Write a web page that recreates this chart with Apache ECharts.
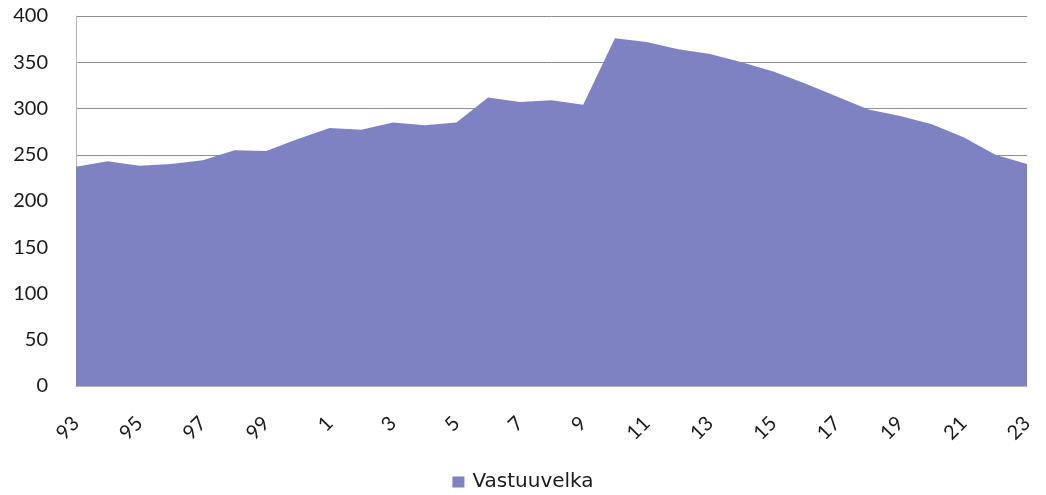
<!DOCTYPE html>
<html>
<head>
<meta charset="utf-8">
<script src="https://cdn.jsdelivr.net/npm/echarts@6/dist/echarts.min.js"></script>
<style>
  html, body { margin: 0; padding: 0; background: #fff; }
  #chart { width: 1046px; height: 495px; }
</style>
</head>
<body>
<div id="chart"></div>
<script>
// vuodet (2-numeroiset)
var years = ['93', '94', '95', '96', '97', '98', '99', '0', '1', '2', '3', '4', '5', '6', '7', '8',
  '9', '10', '11', '12', '13', '14', '15', '16', '17', '18', '19', '20', '21', '22', '23'];
// vastuuvelka
var liability = [237, 243, 238, 240, 244, 255, 254, 267, 279, 277, 285, 282, 285, 312, 307, 309,
  304, 376, 372, 364, 359, 350, 340, 327, 313, 299, 292, 283, 269, 250, 240];
var yTicks = [0, 50, 100, 150, 200, 250, 300, 350, 400];

var font = 'Lato, "Open Sans", sans-serif';
var myChart = echarts.init(document.getElementById('chart'));
var option = {
  animation: false,
  grid: { left: 76, right: 19, top: 16, bottom: 109, containLabel: false },
  legend: {
    bottom: -2,
    left: 'center',
    itemWidth: 12,
    itemHeight: 11,
    itemGap: 4,
    icon: 'rect',
    textStyle: { fontFamily: '"DejaVu Sans", sans-serif', fontSize: 20, color: '#1a1a1a', padding: [0, 0, 0, 3] },
    data: ['Vastuuvelka']
  },
  xAxis: {
    type: 'category',
    boundaryGap: false,
    data: years,
    axisLine: { show: true, lineStyle: { color: '#b5b5b5', width: 1 } },
    axisTick: { show: false },
    axisLabel: {
      interval: 1,
      rotate: 45,
      margin: 34,
      fontFamily: font,
      fontSize: 20,
      color: '#1a1a1a'
    }
  },
  yAxis: {
    type: 'value',
    min: yTicks[0],
    max: yTicks[yTicks.length - 1],
    interval: 50,
    axisLine: { show: true, lineStyle: { color: '#b5b5b5', width: 1 } },
    axisTick: { show: false },
    splitLine: { show: true, lineStyle: { color: '#8f8f8f', width: 1 } },
    axisLabel: { margin: 28, fontFamily: font, fontSize: 20, color: '#1a1a1a' }
  },
  series: [
    {
      name: 'Vastuuvelka',
      type: 'line',
      data: liability,
      symbol: 'none',
      lineStyle: { width: 0 },
      itemStyle: { color: '#7f82c2' },
      areaStyle: { color: '#7f82c2', opacity: 1 }
    }
  ]
};
myChart.setOption(option);
</script>
</body>
</html>
